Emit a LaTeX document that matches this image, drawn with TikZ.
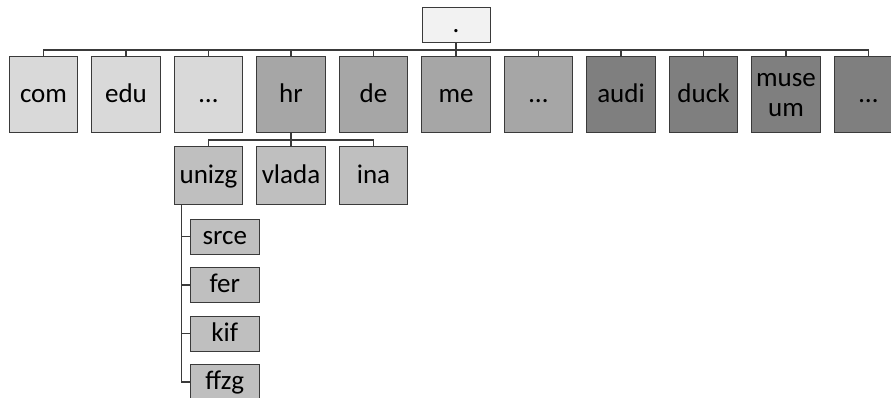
\documentclass[tikz,border=0pt]{standalone}
\usepackage{fontspec}
\setmainfont{Carlito}
\usepackage{xcolor}
\definecolor{Root}{HTML}{F2F2F2}
\definecolor{LightGray}{HTML}{D9D9D9}
\definecolor{MidGray}{HTML}{A6A6A6}
\definecolor{DarkGray}{HTML}{7F7F7F}
\definecolor{SubGray}{HTML}{BFBFBF}
\definecolor{Edge}{HTML}{3A3A3A}
\colorlet{rootfill}{Root}
\colorlet{lightfill}{LightGray}
\colorlet{midfill}{MidGray}
\colorlet{darkfill}{DarkGray}
\colorlet{subfill}{SubGray}
\colorlet{edge}{Edge}
\usepackage{tikz}
\usetikzlibrary{positioning,calc}

\begin{document}
\begin{tikzpicture}[x=1pt,y=-1pt,node distance=14pt,
  every node/.style={draw=edge,line width=1pt,inner sep=0pt,outer sep=0pt,align=center,text height=20pt,text depth=5pt,font=\fontsize{27}{30}\selectfont},
  tld/.style={minimum width=68.5pt,minimum height=76pt},
  sld/.style={fill=subfill,minimum width=68.5pt,minimum height=58pt},
  leaf/.style={fill=subfill,minimum width=69pt,minimum height=35pt},
  conn/.style={draw=edge,line width=1.1pt}]
\clip (0,0) rectangle (891,398);
\node[fill=rootfill,minimum width=68pt,minimum height=35pt] (root) at (456,25.5) {.};
% top level domains
\node[tld,fill=lightfill] (com) at (43.5,95) {com};
\node[tld,fill=lightfill,right=of com] (edu) {edu};
\node[tld,fill=lightfill,right=of edu] (dotsA) {\dots};
\node[tld,fill=midfill,right=of dotsA] (hr) {hr};
\node[tld,fill=midfill,right=of hr] (de) {de};
\node[tld,fill=midfill,right=of de] (me) {me};
\node[tld,fill=midfill,right=of me] (dotsB) {\dots};
\node[tld,fill=darkfill,right=of dotsB] (audi) {audi};
\node[tld,fill=darkfill,right=of audi] (duck) {duck};
\node[tld,fill=darkfill,right=of duck,text height={},text depth={}] (museum) {muse\\um};
\node[tld,fill=darkfill,right=of museum] (dotsC) {\dots};
\foreach \n in {com,edu,dotsA,hr,de,me,dotsB,audi,duck,museum,dotsC}
  \draw[conn] (root.south) -- ++(0,7) -| (\n.north);
% under hr
\node[sld,below=of dotsA] (unizg) {unizg};
\node[sld,right=of unizg] (vlada) {vlada};
\node[sld,right=of vlada] (ina) {ina};
\foreach \n in {unizg,vlada,ina}
  \draw[conn] (hr.south) -- ++(0,7) -| (\n.north);
% under unizg
\node[leaf,below=14pt of unizg.south west,anchor=north west,xshift=16pt] (srce) {srce};
\node[leaf,below=13.5pt of srce] (fer) {fer};
\node[leaf,below=13.5pt of fer] (kif) {kif};
\node[leaf,below=13.5pt of kif] (ffzg) {ffzg};
\foreach \n in {srce,fer,kif,ffzg}
  \draw[conn] ($(unizg.south west)+(7,0)$) |- (\n.west);
\end{tikzpicture}
\end{document}
